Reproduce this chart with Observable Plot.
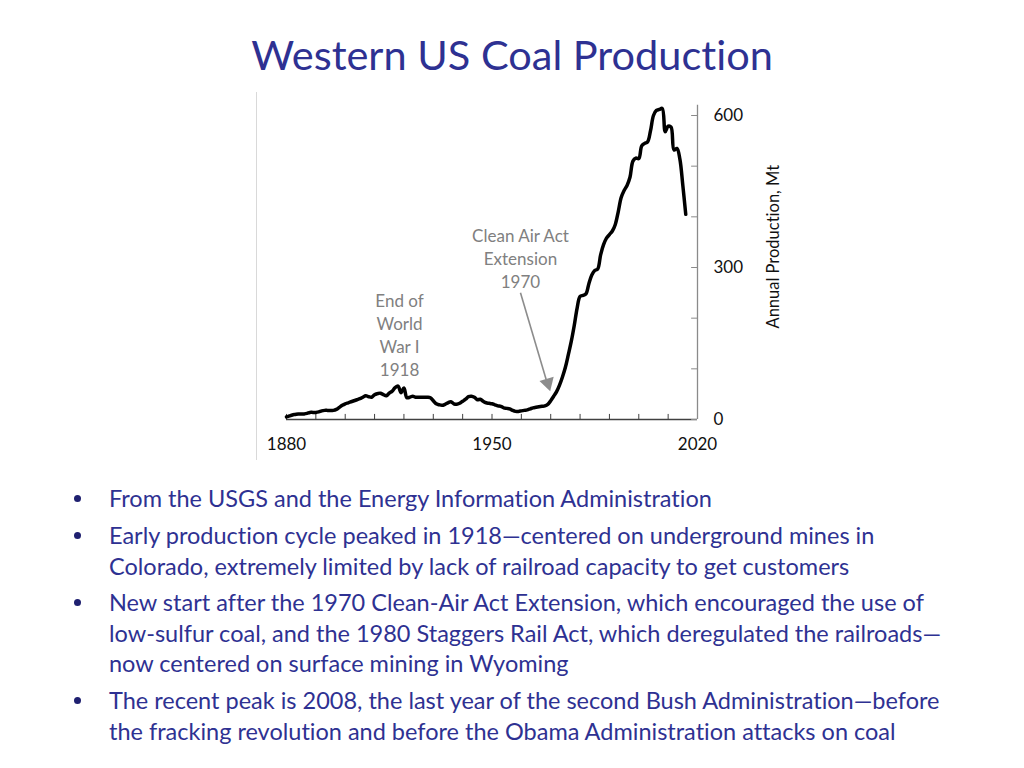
<!DOCTYPE html>
<html>
<head>
<meta charset="utf-8">
<script src="https://cdn.jsdelivr.net/npm/d3@7"></script>
<script src="https://cdn.jsdelivr.net/npm/@observablehq/plot@0.6"></script>
<style>
  html, body { margin: 0; padding: 0; background: #fff; }
  body { width: 1024px; height: 768px; position: relative; overflow: hidden; font-family: Lato, "Open Sans", sans-serif; font-variant-ligatures: none; font-feature-settings: "liga" 0, "clig" 0; }
  #title { position: absolute; left: 0; width: 1024px; top: 26px; text-align: center; color: #2e3192; font-size: 41.5px; line-height: 56px; white-space: nowrap; }
  #frame { position: absolute; left: 256px; top: 92px; width: 1px; height: 368px; background: #d9d9d9; }
  #chart { position: absolute; left: 0; top: 0; }
  #chart svg text { font-variant-ligatures: none; }
  .bullet { position: absolute; left: 109px; color: #2e3192; font-size: 23.5px; line-height: 30.5px; white-space: nowrap; }
  .dot { position: absolute; left: 74px; width: 7px; height: 7px; border-radius: 50%; background: #1f2070; }
</style>
</head>
<body>
<div id="title">Western US Coal Production</div>
<div id="frame"></div>
<div id="chart"></div>
<div id="bullets"></div>
<script>
// ---- data ----
const startYear = 1880;
const production = [
  5, 7, 9, 10, 11, 11, 11, 12, 14, 14,            // 1880-1889
  14, 15, 17, 18, 18, 18, 18, 20, 24, 28,         // 1890-1899
  31, 33, 35, 37, 39, 41, 44, 47, 45, 44,         // 1900-1909
  49, 51, 52, 49, 47, 52, 56, 63, 66, 53,         // 1910-1919
  62, 43, 44, 46, 44, 44, 44, 44, 44, 43,         // 1920-1929
  37, 31, 29, 28, 30, 33, 35, 31, 30, 32,         // 1930-1939
  36, 40, 45, 46, 44, 39, 40, 36, 33, 32,         // 1940-1949
  31, 29, 27, 26, 23, 22, 21, 18, 16, 16,         // 1950-1959
  17, 18, 19, 21, 23, 24, 25, 26, 27, 30,         // 1960-1969
  37, 46, 55, 68, 84, 103, 128, 154, 185, 220,    // 1970-1979
  243, 245, 248, 268, 285, 294, 297, 325, 345, 358, // 1980-1989
  365, 372, 385, 410, 438, 452, 462, 478, 510, 516, // 1990-1999
  515, 540, 545, 548, 570, 600, 610, 612, 614, 568, // 2000-2009
  579, 577, 532, 535, 514, 462, 405               // 2010-2016
];
const xTicks = [1880, 1890, 1900, 1910, 1920, 1930, 1940, 1950, 1960, 1970, 1980, 1990, 2000, 2010, 2020];
const xLabels = [1880, 1950, 2020];
const yTicks = [0, 100, 200, 300, 400, 500, 600];
const yLabels = [0, 300, 600];
const yTitle = "Annual Production, Mt";
const notes = [
  {text: "End of\nWorld\nWar I\n1918", x: 1918.5, y: 168},
  {text: "Clean Air Act\nExtension\n1970", x: 1959.7, y: 319}
];
const arrowFrom = {x: 1959.7, y: 250};
const arrowTo = {x: 1969.0, y: 68};
const bullets = [
  ["From the USGS and the Energy Information Administration"],
  ["Early production cycle peaked in 1918\u2014centered on underground mines in",
   "Colorado, extremely limited by lack of railroad capacity to get customers"],
  ["New start after the 1970 Clean-Air Act Extension, which encouraged the use of",
   "low-sulfur coal, and the 1980 Staggers Rail Act, which deregulated the railroads\u2014",
   "now centered on surface mining in Wyoming"],
  ["The recent peak is 2008, the last year of the second Bush Administration\u2014before",
   "the fracking revolution and before the Obama Administration attacks on coal"]
];
const bulletTops = [483, 520, 587, 685];

const data = production.map((v, i) => ({year: startYear + i, value: v}));

const chart = Plot.plot({
  width: 1024,
  height: 470,
  marginTop: 115,
  marginBottom: 51,
  marginLeft: 286,
  marginRight: 327,
  x: {domain: [1880, 2020], axis: null},
  y: {domain: [0, 600], axis: null},
  style: {fontFamily: "Lato, 'Open Sans', sans-serif", fontSize: "17px", overflow: "visible", background: "transparent"},
  marks: [
    Plot.ruleY([0], {x1: 1880, x2: 2020, stroke: "#404040", strokeWidth: 1.3}),
    Plot.ruleX(xTicks, {x: d => d, y1: 0, y2: 10, stroke: "#404040", strokeWidth: 1}),
    Plot.ruleX([2020], {y1: 0, y2: 620, stroke: "#8a8a8a", strokeWidth: 1.3}),
    Plot.ruleY(yTicks, {y: d => d, x1: 2018, x2: 2020, stroke: "#8a8a8a", strokeWidth: 1}),
    Plot.text(yLabels, {x: 2020, y: d => d, text: d => String(d), dx: 16, textAnchor: "start", fill: "#111", fontSize: 17}),
    Plot.text(xLabels, {x: d => d, y: 0, dy: 25, text: d => String(d), fill: "#111", fontSize: 17}),
    Plot.text([yTitle], {x: 2020, y: 341, dx: 76, rotate: -90, text: d => d, fill: "#111", fontSize: 16.5}),
    Plot.line(data, {x: "year", y: "value", stroke: "black", strokeWidth: 3.5, curve: "catmull-rom", strokeLinejoin: "round"}),
    Plot.text(notes, {x: "x", y: "y", text: "text", fill: "#808080", fontSize: 17, lineHeight: 1.36}),
    Plot.link([{a: arrowFrom, b: arrowTo}], {x1: d => d.a.x, y1: d => d.a.y, x2: d => d.b.x, y2: d => d.b.y, stroke: "#8c8c8c", strokeWidth: 1.6}),
    Plot.dot([arrowTo], {x: "x", y: "y", symbol: "triangle", r: 5.5, fill: "#8c8c8c", stroke: "none", rotate: 163.7, dy: -2})
  ]
});
document.getElementById("chart").appendChild(chart);

const host = document.getElementById("bullets");
bullets.forEach((lines, i) => {
  const div = document.createElement("div");
  div.className = "bullet";
  div.style.top = bulletTops[i] + "px";
  div.innerHTML = lines.map(l => l.replace(/&/g, "&amp;")).join("<br>");
  host.appendChild(div);
  const dot = document.createElement("div");
  dot.className = "dot";
  dot.style.top = (bulletTops[i] + 12) + "px";
  host.appendChild(dot);
});
</script>
</body>
</html>
